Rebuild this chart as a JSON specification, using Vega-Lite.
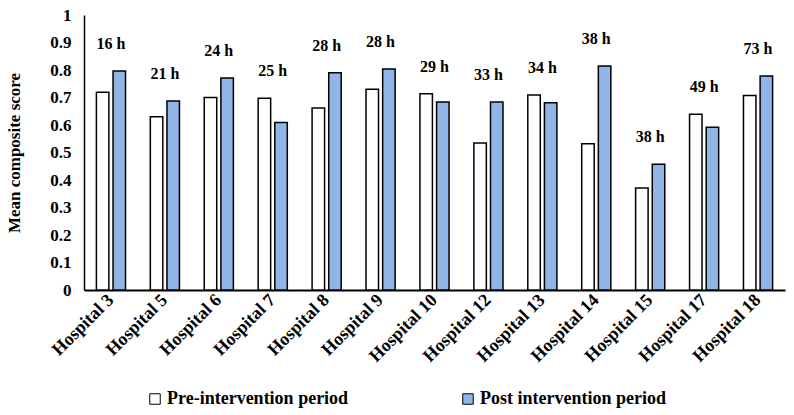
{
  "$schema": "https://vega.github.io/schema/vega-lite/v6.json",
  "width": 701,
  "height": 275,
  "autosize": {"type": "none"},
  "padding": {"left": 84, "top": 15, "right": 9, "bottom": 125},
  "background": "white",
  "config": {
    "font": "Liberation Serif",
    "view": {"stroke": null},
    "axis": {"grid": false, "ticks": false, "domainColor": "black", "labelColor": "black", "titleColor": "black", "labelFont": "Liberation Serif", "titleFont": "Liberation Serif", "labelFontWeight": "bold", "titleFontWeight": "bold", "labelOverlap": false},
    "legend": {"labelFont": "Liberation Serif", "labelFontWeight": "bold", "labelColor": "black", "labelLimit": 400}
  },
  "data": {
    "values": [
      {"hospital": "Hospital 3", "hours": "16 h", "period": "Pre-intervention period", "score": 0.719},
      {"hospital": "Hospital 3", "hours": "16 h", "period": "Post intervention period", "score": 0.796},
      {"hospital": "Hospital 5", "hours": "21 h", "period": "Pre-intervention period", "score": 0.630},
      {"hospital": "Hospital 5", "hours": "21 h", "period": "Post intervention period", "score": 0.687},
      {"hospital": "Hospital 6", "hours": "24 h", "period": "Pre-intervention period", "score": 0.700},
      {"hospital": "Hospital 6", "hours": "24 h", "period": "Post intervention period", "score": 0.771},
      {"hospital": "Hospital 7", "hours": "25 h", "period": "Pre-intervention period", "score": 0.697},
      {"hospital": "Hospital 7", "hours": "25 h", "period": "Post intervention period", "score": 0.609},
      {"hospital": "Hospital 8", "hours": "28 h", "period": "Pre-intervention period", "score": 0.662},
      {"hospital": "Hospital 8", "hours": "28 h", "period": "Post intervention period", "score": 0.790},
      {"hospital": "Hospital 9", "hours": "28 h", "period": "Pre-intervention period", "score": 0.730},
      {"hospital": "Hospital 9", "hours": "28 h", "period": "Post intervention period", "score": 0.804},
      {"hospital": "Hospital 10", "hours": "29 h", "period": "Pre-intervention period", "score": 0.714},
      {"hospital": "Hospital 10", "hours": "29 h", "period": "Post intervention period", "score": 0.684},
      {"hospital": "Hospital 12", "hours": "33 h", "period": "Pre-intervention period", "score": 0.535},
      {"hospital": "Hospital 12", "hours": "33 h", "period": "Post intervention period", "score": 0.684},
      {"hospital": "Hospital 13", "hours": "34 h", "period": "Pre-intervention period", "score": 0.709},
      {"hospital": "Hospital 13", "hours": "34 h", "period": "Post intervention period", "score": 0.681},
      {"hospital": "Hospital 14", "hours": "38 h", "period": "Pre-intervention period", "score": 0.532},
      {"hospital": "Hospital 14", "hours": "38 h", "period": "Post intervention period", "score": 0.815},
      {"hospital": "Hospital 15", "hours": "38 h", "period": "Pre-intervention period", "score": 0.371},
      {"hospital": "Hospital 15", "hours": "38 h", "period": "Post intervention period", "score": 0.457},
      {"hospital": "Hospital 17", "hours": "49 h", "period": "Pre-intervention period", "score": 0.639},
      {"hospital": "Hospital 17", "hours": "49 h", "period": "Post intervention period", "score": 0.592},
      {"hospital": "Hospital 18", "hours": "73 h", "period": "Pre-intervention period", "score": 0.707},
      {"hospital": "Hospital 18", "hours": "73 h", "period": "Post intervention period", "score": 0.778}
    ]
  },
  "encoding": {
    "x": {
      "field": "hospital", "type": "nominal", "sort": null,
      "scale": {"paddingInner": 0.46, "paddingOuter": 0.23},
      "axis": {"title": null, "labelAngle": -45, "labelAlign": "right", "labelBaseline": "middle", "labelFontSize": 18, "labelPadding": 7, "domainWidth": 2}
    },
    "y": {
      "field": "score", "type": "quantitative",
      "scale": {"domain": [0, 1], "nice": false},
      "axis": {"title": "Mean composite score", "values": [0, 0.1, 0.2, 0.3, 0.4, 0.5, 0.6, 0.7, 0.8, 0.9, 1], "format": "~g", "labelOverlap": false, "labelFontSize": 17, "titleFontSize": 17, "labelPadding": 13, "titlePadding": 26, "domainWidth": 1.5}
    }
  },
  "layer": [
    {
      "mark": {"type": "bar", "stroke": "black", "strokeWidth": 1.5},
      "encoding": {
        "xOffset": {"field": "period", "type": "nominal", "sort": ["Pre-intervention period", "Post intervention period"], "scale": {"paddingInner": 0.25}},
        "fill": {
          "field": "period", "type": "nominal",
          "sort": ["Pre-intervention period", "Post intervention period"],
          "scale": {"domain": ["Pre-intervention period", "Post intervention period"], "range": ["white", "#8fb6e6"]},
          "legend": {"title": null, "orient": "none", "direction": "horizontal", "legendX": 62, "legendY": 375, "symbolType": "square", "symbolSize": 110, "symbolStrokeColor": "black", "symbolStrokeWidth": 1, "labelFontSize": 18, "columnPadding": 110, "labelOffset": 3}
        }
      }
    },
    {
      "transform": [{"aggregate": [{"op": "max", "field": "score", "as": "score"}], "groupby": ["hospital", "hours"]}],
      "mark": {"type": "text", "baseline": "bottom", "dy": -19, "fontWeight": "bold", "fontSize": 16, "color": "black", "font": "Liberation Serif"},
      "encoding": {
        "text": {"field": "hours"}
      }
    }
  ]
}
